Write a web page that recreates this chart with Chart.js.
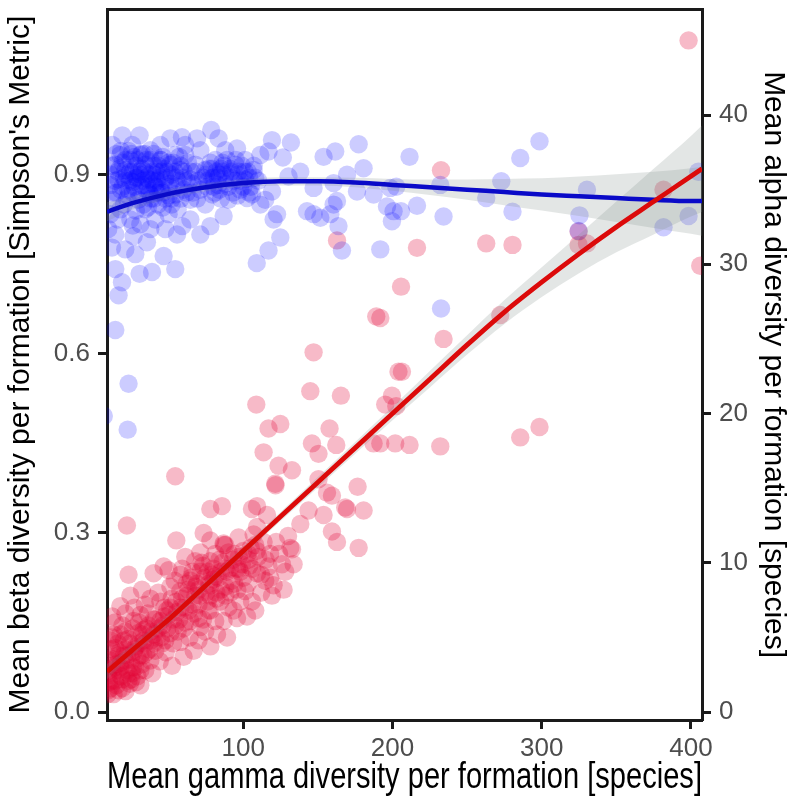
<!DOCTYPE html>
<html><head><meta charset="utf-8">
<script src="https://cdn.jsdelivr.net/npm/chart.js@4.4.1/dist/chart.umd.min.js"></script>
<style>html,body{margin:0;padding:0;background:#fff}#wrap{width:793px;height:806px}</style>
</head><body><div id="wrap"><canvas id="c" width="793" height="806"></canvas></div>
<script>
// ---- axis ticks ----
const xTicks = [100, 200, 300, 400];
const yLeftTicks = [0, 0.3, 0.6, 0.9];
const yRightTicks = [0, 10, 20, 30, 40];

// ---- smoother fits (gamma -> value) with confidence bands ----
const fitGamma = [8.65, 25, 50, 75, 100, 125, 150, 175, 200, 225, 250, 275, 300, 325, 350, 375, 400, 407.4];
const betaFit  = [0.838, 0.852, 0.868, 0.879, 0.886, 0.889, 0.889, 0.887, 0.883, 0.879, 0.875, 0.871, 0.867, 0.864, 0.861, 0.858, 0.856, 0.856];
const betaHi   = [0.854, 0.863, 0.876, 0.886, 0.893, 0.896, 0.896, 0.895, 0.893, 0.892, 0.892, 0.893, 0.894, 0.897, 0.901, 0.905, 0.911, 0.914];
const betaLo   = [0.822, 0.841, 0.860, 0.872, 0.879, 0.882, 0.882, 0.879, 0.873, 0.866, 0.858, 0.849, 0.840, 0.831, 0.821, 0.811, 0.801, 0.798];
const alphaFit = [2.7, 4.1, 6.2, 8.5, 10.8, 13.1, 15.4, 17.7, 20.0, 22.3, 24.6, 26.8, 28.8, 30.7, 32.5, 34.2, 35.9, 36.4];
const alphaHi  = [3.2, 4.5, 6.55, 8.8, 11.1, 13.4, 15.75, 18.1, 20.45, 22.85, 25.25, 27.6, 29.8, 32.0, 34.2, 36.4, 38.6, 39.3];
const alphaLo  = [2.2, 3.7, 5.85, 8.2, 10.5, 12.8, 15.05, 17.3, 19.55, 21.75, 23.95, 26.0, 27.8, 29.4, 30.8, 32.0, 33.2, 33.5];

// ---- formations: [mean gamma, mean beta] ----
const betaPoints = [
 [211.4,.930],[285.6,.928],[298.5,.956],[272.9,.889],[232.0,.883],[202.5,.880],[196.3,.847],[205.7,.839],[216.4,.848],[199.6,.822],[234.2,.830],[262.8,.861],[280.4,.838],[330.3,.875],[325.3,.832],[324.7,.806],[381.6,.812],[398.4,.831],[404.9,.905],[191.8,.775],[232.5,.676],
 [78.5,.975],[119.2,.958],[131.9,.954],[177.3,.951],[161.6,.939],[153.8,.930],[180.6,.911],[138.2,.905],[126.5,.929],[116.9,.939],[30.5,.966],[51.1,.961],[58.9,.963],[69.0,.961],[83.4,.961],[95.8,.944],[111.4,.933],[130.3,.897],[147.1,.878],[160.5,.886],[169.5,.900],[176.2,.872],[187.3,.867],[198.5,.878],[200.7,.839],
 [147.1,.834],[151.6,.828],[160.5,.850],[162.8,.856],[158.3,.834],[163.8,.814],[142.7,.839],[122.6,.834],[120.3,.825],[124.8,.795],[116.9,.773],[109.0,.752],[166.1,.773],[86.8,.831],[77.9,.814],[46.6,.764],[54.4,.742],[38.8,.737],[30.5,.734],[18.7,.720],[16.4,.698],[14.2,.742],[12.0,.778],[35.4,.787],[55.6,.800],[26.5,.797],
 [102.5,.861],[114.7,.858],[111.4,.850],[105.8,.867],[119.2,.872],[14.2,.640],[23.1,.550],[6.5,.496],[22.5,.473],
 [14.2,.917],[17.6,.933],[20.9,.908],[16.4,.892],[24.3,.925],[27.6,.900],[31.0,.933],[22.9,.875],[34.3,.917],[37.7,.941],[32.2,.883],[41.0,.900],[44.4,.925],[37.7,.867],[47.7,.892],[51.1,.917],[42.9,.850],[54.4,.867],[57.8,.908],[61.1,.933],[49.9,.834],[56.0,.842],[64.5,.892],[67.8,.917],[34.3,.842],[29.6,.858],[12.2,.858],[10.9,.834],[17.6,.842],[24.3,.825],[31.0,.817],[41.0,.825],[47.7,.809],[59.1,.814],[44.4,.875],[36.4,.892],[25.6,.950],[12.2,.950],[18.9,.966],
 [71.2,.875],[74.5,.908],[81.2,.925],[87.9,.900],[94.6,.917],[101.2,.892],[79.2,.867],[90.1,.858],[98.0,.875],[106.9,.908],[83.2,.883],[74.5,.850],[64.5,.858],[61.1,.950],[71.2,.941],[87.9,.941],[101.2,.925],[54.4,.933],[44.4,.950],[10.9,.883],[9.5,.809],[14.2,.800],[20.9,.775],[27.6,.767],[37.7,.809],[64.5,.825],[71.2,.800],
 [20,.895],[26,.888],[30,.905],[35,.875],[40,.885],[45,.905],[50,.880],[28,.915],[38,.925],[48,.860],[22,.860],[33,.850],[55,.895],[60,.875],[18,.875],[42,.870],[52,.900],[65,.905],[70,.890],[80,.895],[85,.910],[92,.895],[76,.880],[66,.870],
 [11,.900],[13,.870],[15,.935],[16,.905],[19,.920],[21,.890],[23,.940],[24,.905],[26,.870],[27,.930],[29,.895],[31,.880],[32,.910],[34,.935],[35,.895],[37,.870],[39,.905],[40,.935],[42,.890],[43,.915],[45,.880],[46,.930],[49,.905],[50,.865],[53,.920],[55,.880],[57,.930],[58,.860],[60,.905],[62,.890],[63,.920],[66,.885],[68,.905],[69,.860],[73,.895],[77,.910],[79,.895],[82,.905],[84,.875],[86,.920],[88,.885],[91,.910],[93,.870],[96,.900],[99,.915],[103,.905],[105,.880],[108,.895],[20,.850],[28,.840],[36,.845],[46,.845],[16,.825],[26,.815],[52,.850],[40,.860],
 [12,.915],[14,.890],[15,.870],[17,.910],[18,.940],[19,.880],[21,.925],[22,.900],[23,.865],[24,.890],[25,.935],[26,.905],[27,.880],[28,.895],[29,.925],[30,.870],[31,.900],[32,.935],[33,.890],[34,.905],[35,.925],[36,.880],[37,.900],[38,.860],[39,.890],[40,.915],[41,.880],[42,.905],[43,.870],[44,.895],[45,.925],[46,.870],[47,.910],[48,.895],[50,.920],[51,.885],[52,.860],[54,.905],[56,.890],[58,.915],[60,.895],[62,.870],[75,.900],[78,.920],[80,.880],[83,.895],[86,.905],[89,.925],[94,.890],[97,.905],[100,.880],[104,.895],
 [76,.890],[79,.910],[81,.870],[84,.900],[87,.915],[90,.880],[92,.905],[95,.925],[98,.890],[101,.905],[104,.870],[107,.915],[110,.890],[85,.860],[96,.865]
];

// ---- formations: [mean gamma, mean alpha] ----
const alphaPoints = [
 [398.4,45.0],[232.5,36.3],[216.4,31.1],[262.8,31.4],[280.4,31.3],[205.7,28.5],[381.6,35.0],[324.7,32.2],[324.7,31.3],[330.3,31.4],[406.2,29.9],[162.8,31.6],[191.8,26.4],[234.2,25.0],[206.3,22.8],[199.6,21.2],[195.1,20.6],[202.5,20.5],[272.2,26.6],[191.8,18.0],[201.8,18.0],[211.4,17.9],[232.0,17.8],[285.6,18.4],[298.5,19.1],
 [189.1,26.5],[147.1,24.1],[204.0,22.8],[144.9,21.5],[165.4,21.2],[108.7,20.6],[116.9,19.0],[124.8,19.3],[157.8,19.0],[146.0,18.0],[162.3,17.9],[187.3,18.0],[113.6,17.4],[150.4,17.3],[123.6,16.5],[132.6,16.2],[121.4,15.3],[121.6,15.2],[150.4,15.6],[156.1,14.7],[159.4,14.5],[54.4,15.8],[176.6,15.1],[168.3,13.7],[180.6,13.5],
 [77.9,13.6],[85.7,13.8],[105.8,13.6],[109.2,13.8],[115.9,13.2],[143.7,13.5],[153.8,13.2],[138.2,12.6],[159.4,12.1],[162.8,11.4],[22.0,12.5],[55.1,11.5],[73.4,12.0],[77.9,11.5],[86.8,11.3],[87.0,11.2],[96.8,11.7],[106.9,11.9],[113.6,11.4],[131.5,11.0],[177.3,11.0],[169.5,13.6],[109.2,12.4],
 [23.1,9.2],[32.1,8.2],[39.9,9.3],[46.6,9.75],[49.9,9.5],[57.8,9.2],[67.8,10.1],[64.5,8.8],[71.2,9.4],[77.9,8.5],[81.2,10.6],[87.9,11.2],[90.1,10.7],[95.8,9.6],[103.5,10.2],[109.2,9.3],[116.9,9.75],[114.7,8.8],[120.3,8.5],[128.1,9.4],[132.6,10.9],[133.7,9.9],[119.2,7.8],[125.9,9.9],[91.3,8.0],[98.0,7.4],[93.5,6.8],[84.6,7.4],[86.8,6.1],[82.4,5.2],[77.9,4.4],[71.2,5.7],[70.0,4.8],[66.7,4.1],[60.0,3.7],[52.2,3.1],[57.8,4.7],[63.3,6.8],[55.6,6.7],[48.9,6.8],[44.4,7.4],[37.7,7.6],[31.0,6.5],[26.5,6.1],[17.6,5.2],[13.1,5.2],[14.2,4.3],[10.9,3.45],[17.6,3.0],[25.4,2.6],[31.0,1.8],[16.4,1.46],[12.0,2.1],[37.7,3.45],[45.5,4.6],[51.1,5.3],[60.0,5.6],[39.9,5.2],[33.2,4.8],[26.5,4.0],[20.9,4.2],[76.7,6.8],[70.0,6.3],[81.2,6.1],[89.1,5.0],[95.8,6.3],[102.5,6.4],[105.8,7.4],[108.0,6.8],
 [9.5,2.45],[12.0,3.1],[16.4,3.8],[20.9,3.45],[27.6,3.0],[34.3,2.8],[22.9,2.1],[18.9,1.6],[14.2,2.1],[9.5,1.46],[31.0,3.8],[41.0,4.1],[47.7,4.8],[36.4,5.8],[44.4,6.1],[54.4,5.8],[64.5,6.1],[74.5,5.4],[67.8,7.8],[77.9,7.8],[57.8,8.1],[51.1,8.4],[81.2,9.1],[87.9,8.4],[101.2,8.1],[98.0,9.4],[77.9,10.1],[71.2,10.7],[61.1,10.4],[24.3,7.8],[17.6,7.1],[12.2,6.4],[10.9,4.8],[20.9,5.4],[29.6,5.3],
 [10,2.0],[11,3.6],[12,5.0],[13,2.6],[14,6.0],[15,3.2],[16,4.6],[18,2.4],[19,5.8],[20,3.8],[21,6.6],[22,2.8],[23,4.9],[24,1.9],[25,3.5],[26,5.6],[27,7.0],[28,4.4],[29,2.4],[30,6.0],[32,3.2],[33,5.5],[34,7.2],[35,4.0],[36,6.6],[38,4.8],[39,2.6],[40,6.2],[42,5.0],[43,8.0],[44,3.4],[46,5.8],[47,7.0],[48,4.0],[50,6.5],[52,7.6],[53,4.6],[54,8.8],[56,5.4],[58,7.0],[59,9.6],[61,6.0],[62,7.8],[64,5.0],[65,9.0],[67,6.6],[68,8.4],[70,7.2],[72,10.0],[73,6.2],[75,8.0],[76,9.4],[78,6.8],[80,8.9],[82,7.6],[84,10.2],[85,8.2],[88,9.6],[90,7.0],[92,8.8],[94,10.6],[96,8.2],[99,9.9],[103,8.6],[105,11.0],[110,10.4],[112,8.0],[118,10.6],[122,11.4],[127,8.2],[130,11.8],
 [9,1.2],[10,2.8],[11,1.6],[12,4.2],[13,1.2],[14,3.0],[15,1.8],[16,2.8],[17,4.0],[18,3.3],[19,2.2],[20,4.8],[21,1.4],[22,3.8],[23,2.6],[24,4.6],[25,2.2],[26,3.0],[27,4.2],[28,2.0],[29,3.6],[30,4.6],[31,2.8],[32,5.2],[33,3.8],[34,4.6],[35,5.6],[37,4.2],[38,5.4],[40,4.6],[41,6.2],[43,5.6],[45,5.0],[47,6.4],[49,5.6],[51,7.0],[53,6.2],[55,7.4],[57,6.2],[59,7.6],[61,7.0],[63,8.2],[66,7.2],[69,8.6],[71,7.8],[74,9.0],[77,8.6],[80,9.6],[83,9.0],[86,10.0],[89,9.4],[93,10.2],[97,9.6],[100,10.8],[104,9.8],[108,11.2],
 [62,8.6],[66,9.4],[70,8.2],[73,9.8],[76,7.4],[79,9.2],[82,8.0],[85,9.4],[88,7.8],[91,9.6],[94,8.6],[97,10.4],[100,9.0],[103,10.6],[106,9.6],[109,10.8],[112,9.2],[115,10.2],[118,9.0],[124,10.6]
];

const X_MIN = 8.65, X_MAX = 407.4;
const YL_MIN = -0.0133, YL_MAX = 1.1773;
const YR_MIN = -0.532, YR_MAX = 47.09;

const FAM = "'Liberation Sans',Arial,sans-serif";
const BAND = 'rgba(128,140,135,0.22)';
const toXY = (xs, ys) => xs.map((x, i) => ({x: x, y: ys[i]}));
const pts = arr => arr.map(p => ({x: p[0], y: p[1]}));
const lineDs = (data, axis, color, width, fill, bg, order) => ({
  type: 'line', data: data, yAxisID: axis, borderColor: color, borderWidth: width,
  pointRadius: 0, pointHoverRadius: 0, fill: fill, backgroundColor: bg, order: order,
  cubicInterpolationMode: 'monotone', clip: 0
});
const gridOpt = {display: true, drawOnChartArea: false, drawTicks: true, tickLength: 9, tickWidth: 3, tickColor: '#1a1a1a'};
const borderOpt = {display: true, color: '#1a1a1a', width: 3};

new Chart(document.getElementById('c'), {
  type: 'scatter',
  data: {
    datasets: [
      lineDs(toXY(fitGamma, alphaFit), 'y2', '#dc0a0a', 4.8, false, 'rgba(0,0,0,0)', 0),
      lineDs(toXY(fitGamma, betaFit), 'y', '#0a0ac8', 4.5, false, 'rgba(0,0,0,0)', 0),
      lineDs(toXY(fitGamma, betaHi), 'y', 'rgba(0,0,0,0)', 0, '+1', BAND, 1),
      lineDs(toXY(fitGamma, betaLo), 'y', 'rgba(0,0,0,0)', 0, false, BAND, 1),
      lineDs(toXY(fitGamma, alphaHi), 'y2', 'rgba(0,0,0,0)', 0, '+1', BAND, 1),
      lineDs(toXY(fitGamma, alphaLo), 'y2', 'rgba(0,0,0,0)', 0, false, BAND, 1),
      {type: 'scatter', data: pts(betaPoints), yAxisID: 'y', backgroundColor: 'rgba(0,0,255,0.2)', borderWidth: 0, pointRadius: 9.2, pointHoverRadius: 9.2, order: 2, clip: 0},
      {type: 'scatter', data: pts(alphaPoints), yAxisID: 'y2', backgroundColor: 'rgba(225,0,50,0.27)', borderWidth: 0, pointRadius: 9.2, pointHoverRadius: 9.2, order: 2, clip: 0}
    ]
  },
  options: {
    responsive: false, animation: false, devicePixelRatio: 1,
    layout: {padding: 0},
    plugins: {legend: {display: false}, tooltip: {enabled: false}},
    scales: {
      x: {
        type: 'linear', position: 'bottom', min: X_MIN, max: X_MAX, z: 1,
        afterBuildTicks: s => { s.ticks = xTicks.map(v => ({value: v})); },
        afterFit: s => { s.height = 86; s.paddingLeft = 0; s.paddingRight = 0; },
        grid: gridOpt, border: borderOpt,
        ticks: {color: '#4d4d4d', font: {family: FAM, size: 26}, padding: 4, maxRotation: 0, callback: v => String(v)},
        title: {display: true, text: 'Mean gamma diversity per formation [species]', color: '#000', font: {family: FAM, size: 36}, padding: {top: 0, bottom: 6}}
      },
      xTop: {
        type: 'linear', axis: 'x', position: 'top', min: X_MIN, max: X_MAX, z: 1,
        afterBuildTicks: s => { s.ticks = []; },
        afterFit: s => { s.height = 3; s.paddingLeft = 0; s.paddingRight = 0; },
        grid: {display: false}, border: borderOpt, ticks: {display: false}
      },
      y: {
        type: 'linear', position: 'left', min: YL_MIN, max: YL_MAX, z: 1,
        afterBuildTicks: s => { s.ticks = yLeftTicks.map(v => ({value: v})); },
        afterFit: s => { s.width = 107; s.paddingTop = 0; s.paddingBottom = 0; },
        grid: gridOpt, border: borderOpt,
        ticks: {color: '#4d4d4d', font: {family: FAM, size: 26}, padding: 8, callback: v => v.toFixed(1)},
        title: {display: true, text: "Mean beta diversity per formation [Simpson's Metric]", color: '#000', font: {family: FAM, size: 30}, padding: {top: 3, bottom: 0}}
      },
      y2: {
        type: 'linear', position: 'right', min: YR_MIN, max: YR_MAX, z: 1,
        afterBuildTicks: s => { s.ticks = yRightTicks.map(v => ({value: v})); },
        afterFit: s => { s.width = 91; s.paddingTop = 0; s.paddingBottom = 0; },
        grid: gridOpt, border: borderOpt,
        ticks: {color: '#4d4d4d', font: {family: FAM, size: 26}, padding: 8, callback: v => String(v)},
        title: {display: true, text: 'Mean alpha diversity per formation [species]', color: '#000', font: {family: FAM, size: 30}, padding: {top: 2, bottom: 0}}
      }
    }
  }
});
</script></body></html>
